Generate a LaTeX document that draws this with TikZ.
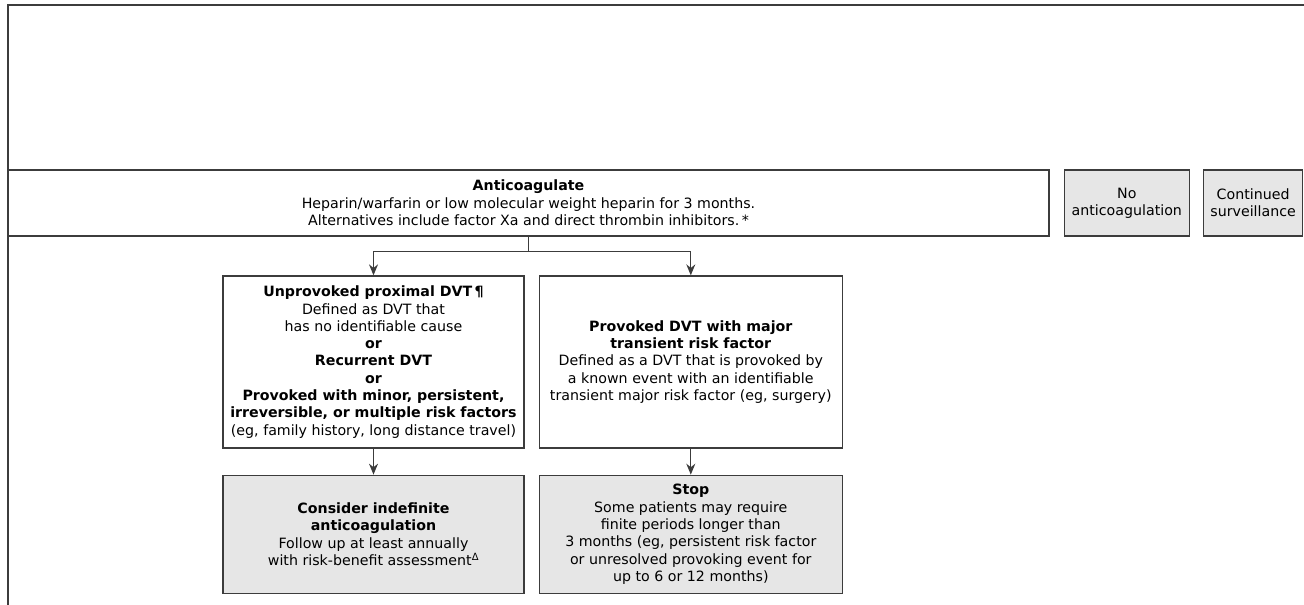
\documentclass[tikz,border=0pt]{standalone}
\usepackage{fontspec}
\setmainfont{DejaVu Sans}
\usetikzlibrary{positioning, arrows.meta}
\definecolor{linea}{HTML}{3C3C3C}
\definecolor{relleno}{HTML}{E6E6E6}

\begin{document}
\begin{tikzpicture}[
        x=1pt, y=-1pt,
        >={Stealth[length=11pt,width=9pt]},
        font=\fontsize{14.2}{17.3}\selectfont,
        every node/.style={align=center, inner sep=1pt},
        caja/.style={
          draw=linea,
          line width=1.3pt,
          fill=white,
          minimum height=66pt
        },
        cajagris/.style={caja, fill=relleno},
        trazo/.style={draw=linea, line width=1.3pt},
        flecha/.style={trazo, ->}
      ]
      \useasboundingbox (0,0) rectangle (1304,605);

      % Marco
      \draw[trazo] (1304,5) -- (8,5) -- (8,605);

      % Cajas de arriba
      \node[caja, minimum width=1041pt] (anticoag) at (528.5,203)
        {\textbf{Anticoagulate}\\
         Heparin/warfarin or low molecular weight heparin for 3 months.\\
         Alternatives include factor Xa and direct thrombin inhibitors.\,*};
      \node[cajagris, minimum width=125pt, right=14pt of anticoag] (noanti)
        {No\\anticoagulation};
      \node[cajagris, minimum width=99pt, right=13pt of noanti] (vigil)
        {Continued\\surveillance};

      % Tipos de DVT
      \node[caja, minimum width=301pt, minimum height=172pt] (unprov) at (373.5,362)
        {\textbf{Unprovoked proximal DVT\,¶}\\
         Defined as DVT that\\
         has no identifiable cause\\
         \textbf{or}\\
         \textbf{Recurrent DVT}\\
         \textbf{or}\\
         \textbf{Provoked with minor, persistent,}\\
         \textbf{irreversible, or multiple risk factors}\\
         (eg, family history, long distance travel)};
      \node[caja, minimum width=303pt, minimum height=172pt, right=14pt of unprov] (transit)
        {\textbf{Provoked DVT with major}\\
         \textbf{transient risk factor}\\
         Defined as a DVT that is provoked by\\
         a known event with an identifiable\\
         transient major risk factor (eg, surgery)};

      % Resultados
      \node[cajagris, minimum width=301pt, minimum height=118pt, below=26pt of unprov] (indef)
        {\textbf{Consider indefinite}\\
         \textbf{anticoagulation}\\
         Follow up at least annually\\
         with risk-benefit assessment\textsuperscript{Δ}};
      \node[cajagris, minimum width=303pt, minimum height=118pt, below=26pt of transit] (stop)
        {\textbf{Stop}\\
         Some patients may require\\
         finite periods longer than\\
         3 months (eg, persistent risk factor\\
         or unresolved provoking event for\\
         up to 6 or 12 months)};

      % Flechas
      \coordinate (rama) at ([yshift=-15pt]anticoag.south);
      \draw[trazo] (anticoag.south) -- (rama);
      \draw[flecha] (rama) -| (unprov.north);
      \draw[flecha] (rama) -| (transit.north);
      \draw[flecha] (unprov) -- (indef);
      \draw[flecha] (transit) -- (stop);

    \end{tikzpicture}
\end{document}
